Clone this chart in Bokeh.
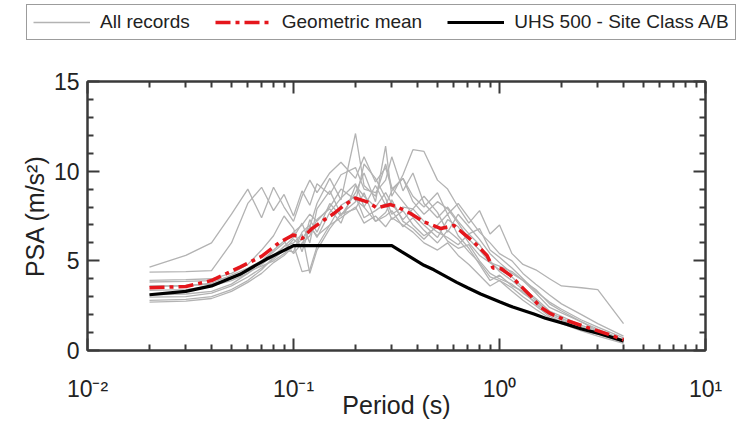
from bokeh.plotting import figure
from bokeh.layouts import column
from bokeh.models import (Range1d, FixedTicker, LogAxis, LinearAxis, Legend, LegendItem)
from bokeh.embed import file_html
from bokeh.resources import INLINE

# ---------------- data ----------------
periods = [0.02, 0.03, 0.04, 0.05, 0.06, 0.07, 0.08, 0.09, 0.10, 0.11, 0.12, 0.13,
           0.15, 0.17, 0.20, 0.22, 0.25, 0.28, 0.30, 0.34, 0.38, 0.43, 0.50, 0.56,
           0.63, 0.71, 0.80, 0.90, 1.0, 1.15, 1.3, 1.5, 1.75, 2.0, 2.5, 3.0, 4.0]

rec_01 = [4.65, 5.3, 6.0, 7.6, 9.0, 7.4, 9.1, 8.0, 7.2, 8.6, 9.5, 8.8, 9.9, 10.5, 9.6, 10.8, 9.4, 10.2, 9.0, 9.6, 8.6, 8.0, 8.8, 7.6, 8.2, 7.4, 6.6, 6.0, 5.4, 5.0, 4.3, 3.7, 3.1, 2.6, 2.0, 1.5, 0.8]
rec_02 = [4.37, 4.4, 4.45, 6.0, 8.2, 9.1, 7.8, 8.7, 7.5, 8.9, 8.1, 9.3, 8.7, 9.8, 10.2, 9.0, 8.8, 9.5, 10.8, 8.9, 9.9, 8.2, 7.4, 8.0, 7.2, 6.5, 6.8, 5.6, 5.2, 4.6, 4.0, 3.3, 2.7, 2.3, 1.7, 1.3, 0.7]
rec_03 = [3.91, 3.95, 4.0, 4.3, 4.8, 5.6, 6.4, 7.5, 6.8, 5.5, 6.9, 8.2, 9.6, 8.4, 12.1, 9.2, 8.6, 10.4, 9.1, 8.3, 7.6, 7.0, 6.3, 7.3, 6.9, 6.0, 5.3, 4.9, 4.7, 4.4, 3.9, 3.2, 2.4, 2.1, 1.6, 1.1, 0.55]
rec_04 = [3.82, 3.85, 3.9, 4.1, 4.5, 4.9, 5.2, 5.6, 6.2, 5.8, 7.3, 6.6, 8.2, 7.5, 8.8, 9.9, 8.3, 11.4, 8.6, 9.8, 11.2, 11.1, 9.5, 9.0, 8.0, 7.1, 7.8, 6.5, 7.0, 5.4, 4.8, 4.5, 4.0, 3.6, 3.5, 3.4, 1.5]
rec_05 = [3.58, 3.6, 3.7, 4.0, 4.4, 4.7, 5.0, 5.4, 5.9, 4.4, 4.5, 5.8, 7.0, 8.1, 8.6, 7.4, 7.8, 8.2, 7.3, 7.8, 7.0, 6.4, 6.9, 6.1, 5.7, 5.9, 5.0, 4.3, 4.0, 3.7, 3.2, 2.7, 2.1, 1.8, 1.3, 1.0, 0.5]
rec_06 = [3.35, 3.4, 3.6, 3.9, 4.3, 4.8, 5.3, 5.8, 6.0, 6.5, 4.3, 5.6, 6.8, 7.6, 7.9, 8.8, 7.2, 7.5, 7.8, 6.9, 7.4, 6.7, 6.0, 6.7, 6.2, 5.5, 4.9, 4.1, 3.9, 3.5, 3.0, 2.5, 1.9, 1.6, 1.2, 0.9, 0.45]
rec_07 = [2.98, 3.0, 3.2, 3.6, 4.1, 4.6, 5.1, 5.6, 5.5, 6.6, 7.0, 6.3, 7.7, 8.5, 9.3, 8.0, 7.2, 7.7, 8.4, 7.2, 6.8, 6.2, 7.0, 7.6, 6.4, 5.7, 4.8, 3.9, 4.2, 3.6, 3.3, 2.6, 2.0, 1.7, 1.3, 0.95, 0.5]
rec_08 = [2.79, 2.85, 3.0, 3.4, 3.9, 4.5, 5.2, 5.8, 6.3, 7.1, 6.0, 7.9, 8.9, 7.6, 8.3, 10.4, 9.6, 8.5, 7.6, 8.0, 7.9, 8.6, 7.7, 6.6, 7.6, 6.9, 6.2, 5.4, 4.9, 4.3, 3.9, 3.4, 2.6, 2.2, 1.6, 1.2, 0.6]
rec_09 = [2.70, 2.75, 2.9, 3.3, 3.8, 4.3, 4.9, 5.3, 5.8, 6.2, 6.9, 6.4, 7.0, 7.4, 8.0, 7.1, 7.5, 6.9, 7.4, 7.0, 6.6, 6.0, 5.6, 6.0, 5.3, 4.8, 4.2, 3.6, 3.9, 3.3, 2.8, 2.3, 1.8, 1.5, 1.1, 0.8, 0.4]
rec_10 = [3.6, 3.62, 3.75, 4.2, 4.6, 5.0, 5.5, 6.0, 6.6, 7.0, 7.6, 7.2, 8.0, 9.0, 8.4, 8.0, 9.2, 8.1, 8.9, 9.6, 8.3, 7.6, 8.3, 7.9, 7.1, 6.2, 5.6, 4.9, 4.5, 4.1, 3.5, 2.9, 2.2, 1.9, 1.4, 1.1, 0.55]
rec_11 = [3.1, 3.15, 3.3, 3.7, 4.3, 5.0, 5.6, 6.1, 5.4, 6.0, 6.4, 7.3, 7.9, 7.1, 9.2, 8.6, 8.0, 8.8, 8.2, 7.3, 7.9, 7.2, 6.6, 6.3, 5.9, 6.5, 5.9, 5.0, 4.4, 3.9, 3.4, 2.8, 2.1, 1.8, 1.3, 1.0, 0.5]
records = [rec_01, rec_02, rec_03, rec_04, rec_05, rec_06, rec_07, rec_08, rec_09, rec_10, rec_11]

mean_periods = [0.02, 0.03, 0.04, 0.055, 0.07, 0.086, 0.1, 0.11, 0.123, 0.14, 0.157, 0.176,
                0.2, 0.228, 0.254, 0.296, 0.32, 0.37, 0.43, 0.52, 0.6, 0.67, 0.75, 0.87,
                0.93, 1.02, 1.13, 1.26, 1.41, 1.58, 1.77, 2.11, 2.64, 3.33, 4.0]
mean_psa = [3.50, 3.57, 3.9, 4.65, 5.25, 6.05, 6.45, 6.24, 6.8, 7.26, 7.64, 8.1,
            8.5, 8.29, 7.95, 8.14, 8.0, 7.64, 7.17, 6.8, 6.98, 6.52, 6.05, 5.3,
            4.6, 4.56, 4.19, 3.63, 3.07, 2.42, 2.05, 1.68, 1.30, 0.93, 0.60]

uhs_periods = [0.02, 0.03, 0.04, 0.055, 0.074, 0.1, 0.3, 0.336, 0.43, 0.48, 0.62,
               0.70, 0.81, 1.0, 1.16, 1.47, 1.67, 2.11, 2.5, 3.07, 4.0]
uhs_psa = [3.11, 3.3, 3.6, 4.25, 5.1, 5.85, 5.85, 5.5, 4.75, 4.5, 3.8,
           3.5, 3.15, 2.72, 2.42, 2.03, 1.8, 1.47, 1.2, 0.94, 0.53]

series_labels = ["All records", "Geometric mean", "UHS 500 - Site Class A/B"]
x_major = [0.01, 0.1, 1, 10]
x_labels = ["10⁻²", "10⁻¹", "10⁰", "10¹"]
x_minor = [m * d for d in (0.01, 0.1, 1) for m in range(2, 10)]
y_major = [0, 5, 10, 15]
y_minor = [v for v in range(0, 16) if v % 5 != 0]

FONT = "Liberation Sans"
AX = "#3a3a3a"
TXT = "#222222"
GRAY = dict(line_color="#b3b3b3", line_width=1.3)
RED = dict(line_color="#e5161c", line_width=3.5, line_dash="15 5 4 5")
BLACK = dict(line_color="black", line_width=3.2)

LEG_H = 45

# ---------------- legend strip (its own small figure, so nothing is clipped) ----------------
# the series are drawn here too, but the strip's ranges keep them out of view:
# only the legend swatches are seen.
lf = figure(width=739, height=LEG_H, x_range=Range1d(-2, -1), y_range=Range1d(-2, -1),
            output_backend="svg", toolbar_location=None,
            x_axis_location=None, y_axis_location=None,
            min_border_left=0, min_border_right=0, min_border_top=0, min_border_bottom=0)
try:
    lf.frame_align = False
except AttributeError:
    pass
lf.xgrid.visible = False
lf.ygrid.visible = False
lf.outline_line_color = None
lg = lf.line(x=periods, y=rec_01, **GRAY)
lr = lf.line(x=mean_periods, y=mean_psa, **RED)
lb = lf.line(x=uhs_periods, y=uhs_psa, **BLACK)
legend = Legend(items=[LegendItem(label=series_labels[0], renderers=[lg]),
                       LegendItem(label=series_labels[1], renderers=[lr]),
                       LegendItem(label=series_labels[2], renderers=[lb])],
                orientation="horizontal", location=(26, 5),
                glyph_width=57, glyph_height=22, label_height=22,
                label_standoff=10, spacing=25, padding=6,
                label_text_font=FONT, label_text_font_size="19px",
                label_text_color=TXT,
                border_line_color=AX, border_line_width=1.5,
                background_fill_color="white", background_fill_alpha=1.0)
lf.add_layout(legend, "center")

# ---------------- main plot ----------------
p = figure(width=739, height=424 - LEG_H, x_axis_type="log",
           x_range=Range1d(0.01, 10), y_range=Range1d(0, 15),
           output_backend="svg", toolbar_location=None,
           min_border_left=87, min_border_right=34, min_border_top=81 - LEG_H,
           min_border_bottom=74)
p.xgrid.visible = False
p.ygrid.visible = False
p.outline_line_color = AX
p.outline_line_width = 2


def style(ax, labels=True):
    ax.axis_line_color = AX
    ax.axis_line_width = 2
    ax.major_tick_line_color = AX
    ax.major_tick_line_width = 2
    ax.minor_tick_line_color = AX
    ax.minor_tick_line_width = 2
    ax.major_tick_in = 12
    ax.major_tick_out = 0
    ax.minor_tick_in = 6
    ax.minor_tick_out = 0
    ax.major_label_text_font = FONT
    ax.major_label_text_color = TXT
    if labels:
        ax.major_label_text_font_size = "23px"
    else:
        ax.major_label_text_font_size = "1px"
        ax.major_label_text_alpha = 0
        ax.major_label_standoff = 1
    ax.axis_label_text_font = FONT
    ax.axis_label_text_font_style = "normal"
    ax.axis_label_text_color = TXT


xa = p.xaxis[0]
xa.ticker = FixedTicker(ticks=x_major, minor_ticks=x_minor)
xa.major_label_overrides = {v: s for v, s in zip(x_major, x_labels)}
style(xa)
xa.major_label_standoff = 25
xa.axis_label = "Period (s)"
xa.axis_label_text_font_size = "25px"
xa.axis_label_standoff = -14

ya = p.yaxis[0]
ya.ticker = FixedTicker(ticks=y_major, minor_ticks=y_minor)
style(ya)
ya.major_label_standoff = 8
ya.axis_label = "PSA (m/s²)"
ya.axis_label_text_font_size = "25px"
ya.axis_label_standoff = 2

top = LogAxis(ticker=FixedTicker(ticks=x_major, minor_ticks=x_minor))
style(top, labels=False)
p.add_layout(top, "above")
right = LinearAxis(ticker=FixedTicker(ticks=y_major, minor_ticks=y_minor))
style(right, labels=False)
p.add_layout(right, "right")

p.multi_line(xs=[periods] * len(records), ys=records, **GRAY)
p.line(uhs_periods, uhs_psa, **BLACK)
p.line(mean_periods, mean_psa, **RED)

layout = column(lf, p, spacing=0)
open("out.html", "w").write(file_html(layout, INLINE))
